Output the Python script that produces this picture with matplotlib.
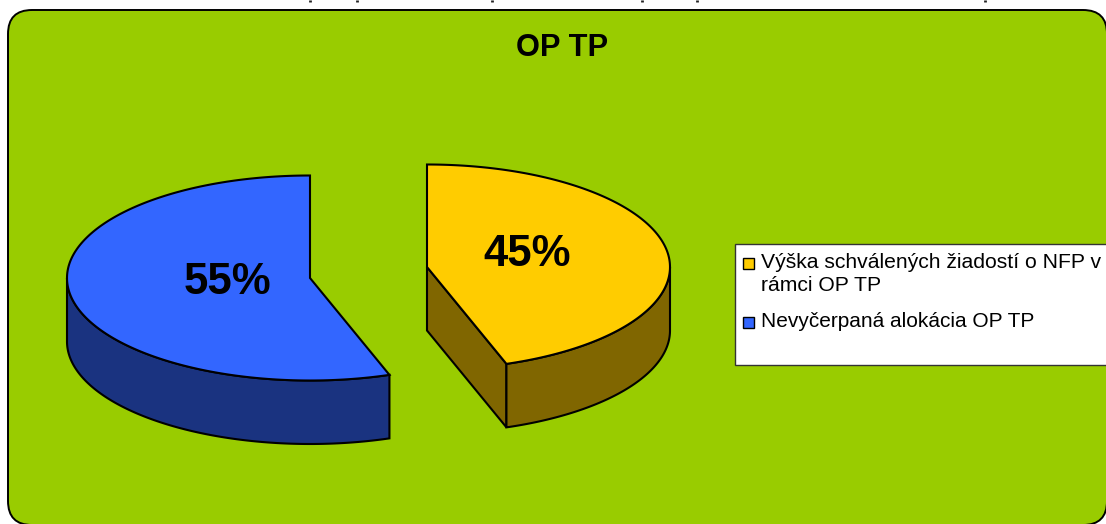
import numpy as np
import matplotlib.pyplot as plt
from matplotlib.patches import FancyBboxPatch, Polygon, Rectangle

categories = ["Výška schválených žiadostí o NFP v\nrámci OP TP", "Nevyčerpaná alokácia OP TP"]
values = [44.7, 55.3]
value_labels = ["45%", "55%"]
title = "OP TP"

top_colors = ["#FFCC00", "#3366FF"]
side_colors = ["#806600", "#1A3380"]
centers = [(427, 267), (310, 278)]
label_pos = [(527.5, 254), (227, 282)]

# feet of the heading that is cut off above the chart
cut_off_x = [310, 357, 492, 642, 697, 985]

RX, RY, DEPTH = 243, 102.5, 63.5

plt.rcParams["font.family"] = ["Liberation Sans", "DejaVu Sans"]

fig = plt.figure(figsize=(11.06, 5.24), dpi=100, facecolor="white")
ax = fig.add_axes([0, 0, 1, 1])
ax.set_xlim(0, 1106)
ax.set_ylim(524, 0)
ax.axis("off")

ax.vlines(cut_off_x, 0, 2, color="#222222", lw=2)
ax.add_patch(FancyBboxPatch((8, 10), 1099, 515, boxstyle="round,pad=0,rounding_size=24",
                            fc="#99CC00", ec="black", lw=1.4))
ax.text(562, 47.5, title, ha="center", va="center", fontsize=22.2, fontweight="bold")


def ellipse(center, a0, a1):
    # angles in degrees, counted clockwise from 12 o'clock
    t = np.radians(np.linspace(a0, a1, 200))
    return np.column_stack([center[0] + RX * np.sin(t), center[1] - RY * np.cos(t)])


def draw_slice(center, a0, a1, top, side, face_angle=None):
    # outer wall, only the part facing the viewer (90..270 deg)
    w0, w1 = max(a0, 90), min(a1, 270)
    rim = ellipse(center, w0, w1)
    wall = np.vstack([rim, (rim + [0, DEPTH])[::-1]])
    # cut face from the centre to the rim
    if face_angle is not None:
        p = ellipse(center, face_angle, face_angle)[0]
        face = [center, p, p + [0, DEPTH], np.array(center) + [0, DEPTH]]
        ax.add_patch(Polygon(face, fc=side, ec="black", lw=1.5, zorder=2))
    ax.add_patch(Polygon(wall, fc=side, ec="black", lw=1.5, zorder=2))
    surf = np.vstack([[center], ellipse(center, a0, a1)])
    ax.add_patch(Polygon(surf, fc=top, ec="black", lw=1.5, zorder=3))


fractions = np.array(values) / sum(values) * 360
draw_slice(centers[0], 0, fractions[0], top_colors[0], side_colors[0], face_angle=fractions[0])
draw_slice(centers[1], fractions[0], 360, top_colors[1], side_colors[1])

for (x, y), lab in zip(label_pos, value_labels):
    ax.text(x, y, lab, ha="center", va="center", fontsize=31.5, fontweight="bold", zorder=4)

# legend box runs off the right edge like in the original
ax.add_patch(Rectangle((735, 244), 400, 121, fc="white", ec="#333333", lw=1, zorder=5))
ax.add_patch(Rectangle((743, 258), 11, 11, fc=top_colors[0], ec="black", lw=1, zorder=6))
ax.add_patch(Rectangle((743, 317), 11, 11, fc=top_colors[1], ec="black", lw=1, zorder=6))
ax.text(761, 253, categories[0], ha="left", va="top", fontsize=15.2, linespacing=1.27, zorder=6)
ax.text(761, 312, categories[1], ha="left", va="top", fontsize=15, zorder=6)

fig.savefig("out.png", dpi=100)
